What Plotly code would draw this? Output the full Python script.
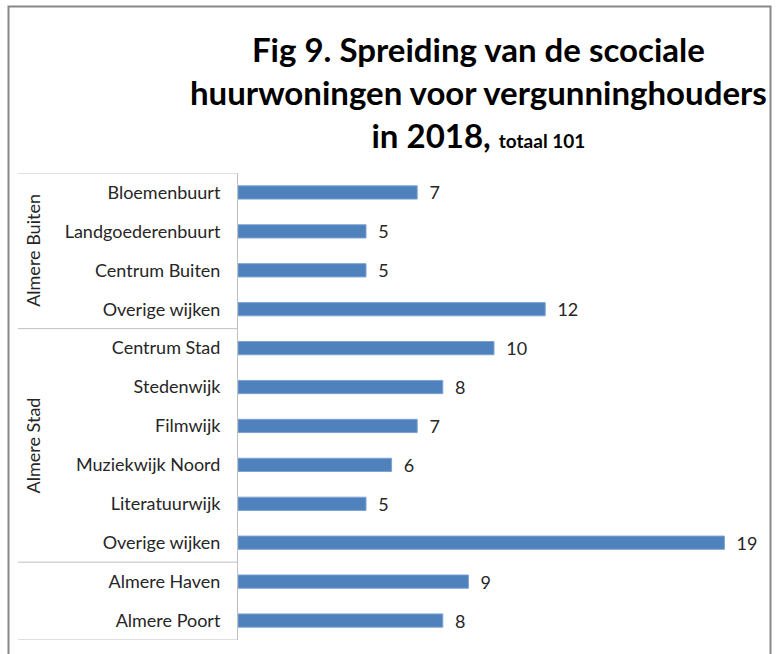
import plotly.graph_objects as go

categories = ["Bloemenbuurt", "Landgoederenbuurt", "Centrum Buiten", "Overige wijken",
              "Centrum Stad", "Stedenwijk", "Filmwijk", "Muziekwijk Noord",
              "Literatuurwijk", "Overige wijken", "Almere Haven", "Almere Poort"]
values = [7, 5, 5, 12, 10, 8, 7, 6, 5, 19, 9, 8]
groups = ["Almere Buiten", "Almere Stad", ""]
group_sizes = [4, 6, 2]

W, H = 777, 654
FONT = "Lato"
x0_px, x1_px = 238, 750
y0_px, y1_px = 173, 640

positions = list(range(len(categories)))

fig = go.Figure()
fig.add_trace(go.Bar(
    y=positions, x=values, orientation="h",
    marker=dict(color="#4F81BD", line=dict(color="#7BA3D3", width=1)),
    width=0.34,
    text=values, texttemplate="  %{x}", textposition="outside",
    constraintext="none",
    textfont=dict(family=FONT, size=18, color="#262626"),
    cliponaxis=False, hoverinfo="skip",
))

shapes = []
# outer border
shapes.append(dict(type="rect", xref="paper", yref="paper",
                   x0=8.5 / W, x1=770.5 / W, y0=-0.05, y1=1 - 6.5 / H,
                   line=dict(color="#878787", width=2)))
# group separators
b = -0.5
bounds = [b]
for s in group_sizes:
    b += s
    bounds.append(b)
for yb in bounds:
    shapes.append(dict(type="line", xref="paper", yref="y",
                       x0=18 / W, x1=x0_px / W, y0=yb, y1=yb,
                       line=dict(color="#BFBFBF", width=1)))

annotations = []
start = -0.5
for g, s in zip(groups, group_sizes):
    mid = start + s / 2
    if g:
        annotations.append(dict(text=g, xref="paper", yref="y", x=33 / W, y=mid,
                                xanchor="center", yanchor="middle",
                                textangle=-90, showarrow=False,
                                font=dict(family=FONT, size=18, color="#262626")))
    start += s

annotations.append(dict(
    text="<b>Fig 9. Spreiding van de scociale<br>huurwoningen voor vergunninghouders<br>in 2018, <span style='font-size:19px'>totaal 101</span></b>",
    xref="paper", yref="paper", x=478 / W, y=1 - 27 / H, xanchor="center", yanchor="top",
    showarrow=False, align="center",
    font=dict(family=FONT, size=33, color="#000000")))

fig.update_layout(
    width=W, height=H, margin=dict(l=0, r=0, t=0, b=0),
    paper_bgcolor="white", plot_bgcolor="white",
    showlegend=False, shapes=shapes, annotations=annotations,
    xaxis=dict(domain=[x0_px / W, x1_px / W], range=[0, 20], visible=False),
    yaxis=dict(domain=[1 - y1_px / H, 1 - y0_px / H], range=[len(categories) - 0.5, -0.5],
               tickmode="array", tickvals=positions, ticktext=categories,
               showgrid=False, zeroline=False,
               showline=True, linecolor="#BFBFBF", linewidth=1,
               ticks="", ticklabelstandoff=13,
               tickfont=dict(family=FONT, size=18, color="#262626")),
)

fig.write_html("out.html", config={"displayModeBar": False},
               post_script="document.body.style.margin='0px';document.body.style.overflow='hidden';")
